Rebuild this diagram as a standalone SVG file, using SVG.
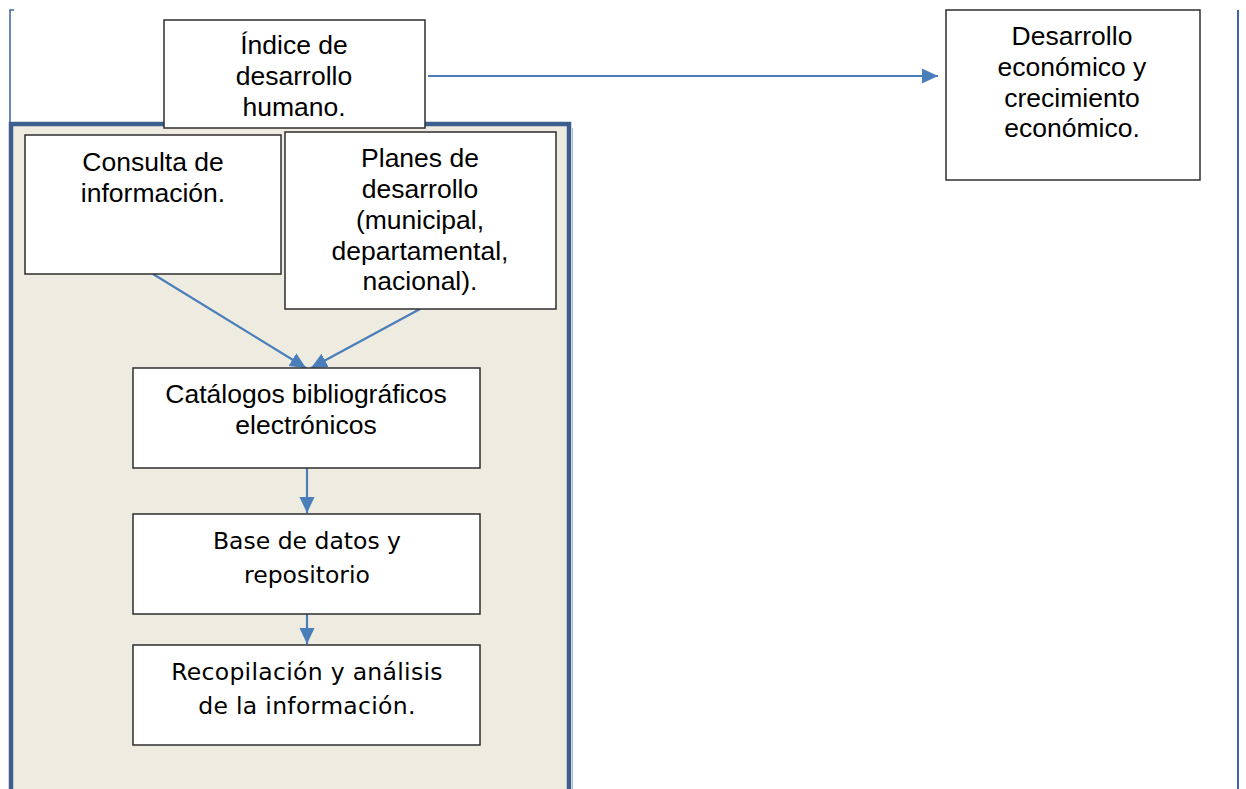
<svg xmlns="http://www.w3.org/2000/svg" width="1246" height="789" viewBox="0 0 1246 789">
<defs>
<style>
.box{fill:#fff;stroke:#2e2e2e;stroke-width:1.5}
.t{font-family:"Liberation Sans",Arial,sans-serif;font-size:26.5px;fill:#000;text-anchor:middle}
.v{font-family:"DejaVu Sans",Verdana,sans-serif;font-size:23.5px;fill:#000;text-anchor:middle}
.c{stroke:#4A7EBB;stroke-width:2.2;fill:none}
</style>
<marker id="ah" markerUnits="userSpaceOnUse" markerWidth="18" markerHeight="18" viewBox="0 0 18 18" refX="16" refY="9" orient="auto">
<path d="M0,1.5 L16,9 L0,16.5 Z" fill="#4A7EBB"/>
</marker>
</defs>
<rect width="1246" height="789" fill="#fff"/>
<g id="frame">
<path d="M14,10 H10 V123" fill="none" stroke="#3D65A5" stroke-width="1.5"/>
<line x1="1238" y1="10" x2="1238" y2="789" stroke="#3D65A5" stroke-width="2"/>
<rect x="11" y="124" width="558" height="680" fill="#EEEBE0" stroke="#3C5F8E" stroke-width="4.5"/>
<line x1="572.5" y1="128" x2="572.5" y2="789" stroke="#A9C0DC" stroke-width="1"/>
</g>
<g id="connectors">
<line class="c" x1="428" y1="76" x2="938" y2="76" marker-end="url(#ah)"/>
<line class="c" x1="153" y1="274" x2="306" y2="368" marker-end="url(#ah)"/>
<line class="c" x1="420" y1="309" x2="311" y2="368" marker-end="url(#ah)"/>
<line class="c" x1="307" y1="468" x2="307" y2="513" marker-end="url(#ah)"/>
<line class="c" x1="307" y1="614" x2="307" y2="644" marker-end="url(#ah)"/>
</g>
<g id="indice">
<rect class="box" x="164" y="20" width="261" height="108"/>
<text class="t" x="294" y="54">Índice de</text>
<text class="t" x="294" y="85">desarrollo</text>
<text class="t" x="294" y="116">humano.</text>
</g>
<g id="desarrollo-economico">
<rect class="box" x="946" y="10" width="254" height="170"/>
<text class="t" x="1072" y="45">Desarrollo</text>
<text class="t" x="1072" y="76">económico y</text>
<text class="t" x="1072" y="107">crecimiento</text>
<text class="t" x="1072" y="137">económico.</text>
</g>
<g id="consulta">
<rect class="box" x="25" y="135" width="256" height="139"/>
<text class="t" x="153" y="171">Consulta de</text>
<text class="t" x="153" y="202">información.</text>
</g>
<g id="planes">
<rect class="box" x="285" y="132" width="271" height="177"/>
<text class="t" x="420" y="167">Planes de</text>
<text class="t" x="420" y="198">desarrollo</text>
<text class="t" x="420" y="229">(municipal,</text>
<text class="t" x="420" y="260">departamental,</text>
<text class="t" x="420" y="290">nacional).</text>
</g>
<g id="catalogos">
<rect class="box" x="133" y="368" width="347" height="100"/>
<text class="t" x="306" y="403">Catálogos bibliográficos</text>
<text class="t" x="306" y="434">electrónicos</text>
</g>
<g id="base">
<rect class="box" x="133" y="514" width="347" height="100"/>
<text class="v" x="307" y="549">Base de datos y</text>
<text class="v" x="307" y="583">repositorio</text>
</g>
<g id="recopilacion">
<rect class="box" x="133" y="645" width="347" height="100"/>
<text class="v" x="307" y="680" letter-spacing="0.3">Recopilación y análisis</text>
<text class="v" x="307" y="714" letter-spacing="0.3">de la información.</text>
</g>
</svg>
